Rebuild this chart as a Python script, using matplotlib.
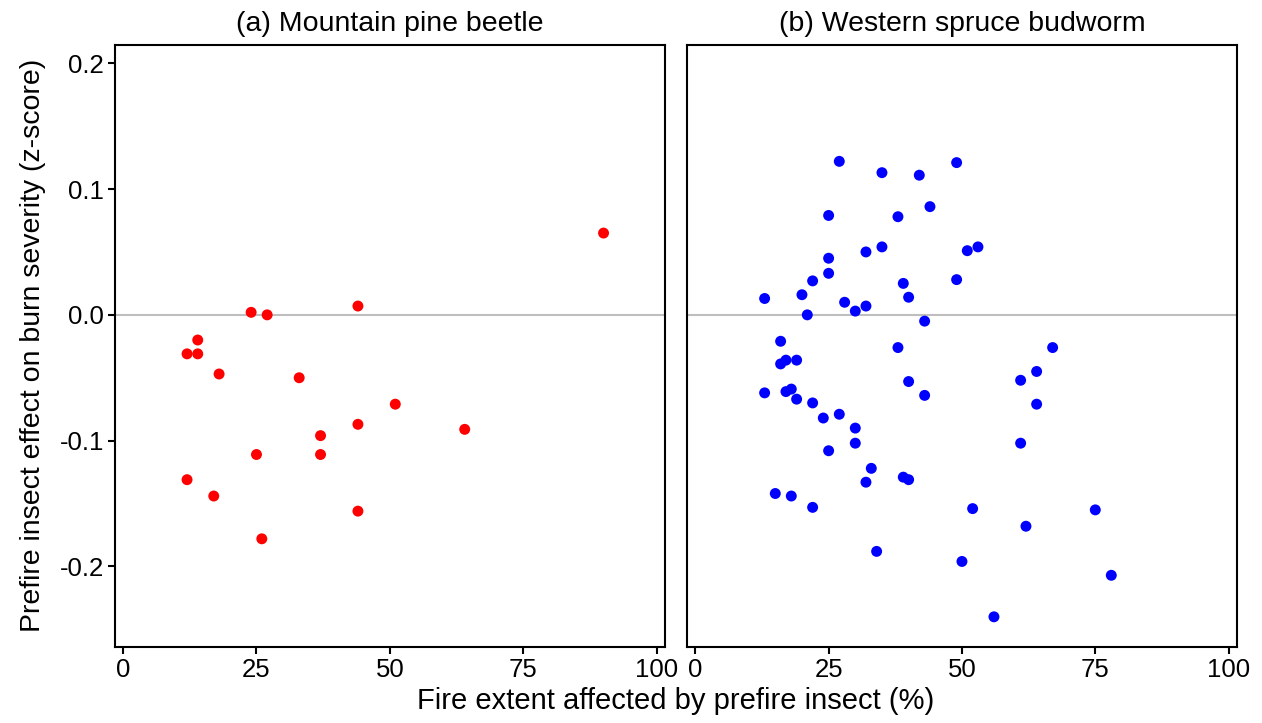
import numpy as np
import matplotlib
matplotlib.use('Agg')
import matplotlib.pyplot as plt

plt.rcParams['font.family'] = ['Liberation Sans', 'DejaVu Sans']
plt.rcParams['axes.unicode_minus'] = False

# (a) Mountain pine beetle
mpb_extent = [24, 27, 44, 14, 12, 14, 18, 33, 51, 44, 37, 37, 25, 12, 17, 44, 26, 64, 90]
mpb_effect = [0.002, 0.000, 0.007, -0.020, -0.031, -0.031, -0.047, -0.050, -0.071,
              -0.087, -0.096, -0.111, -0.111, -0.131, -0.144, -0.156, -0.178, -0.091, 0.065]

# (b) Western spruce budworm
wsb_extent = [27, 35, 42, 49, 44, 25, 38, 35, 32, 51, 53, 25, 25, 22, 39, 49, 13, 20, 40,
              28, 32, 30, 21, 43, 38, 16, 16, 17, 19, 40, 43, 13, 17, 18, 19, 22, 24, 27,
              30, 30, 25, 33, 32, 39, 40, 15, 18, 22, 52, 34, 50, 67, 64, 61, 64, 61, 75,
              62, 78, 56]
wsb_effect = [0.122, 0.113, 0.111, 0.121, 0.086, 0.079, 0.078, 0.054, 0.050, 0.051, 0.054,
              0.045, 0.033, 0.027, 0.025, 0.028, 0.013, 0.016, 0.014, 0.010, 0.007, 0.003,
              0.000, -0.005, -0.026, -0.021, -0.039, -0.036, -0.036, -0.053, -0.064, -0.062,
              -0.061, -0.059, -0.067, -0.070, -0.082, -0.079, -0.090, -0.102, -0.108, -0.122,
              -0.133, -0.129, -0.131, -0.142, -0.144, -0.153, -0.154, -0.188, -0.196, -0.026,
              -0.045, -0.052, -0.071, -0.102, -0.155, -0.168, -0.207, -0.240]

titles = ["(a) Mountain pine beetle", "(b) Western spruce budworm"]
xticks = [0, 25, 50, 75, 100]
yticks = [-0.2, -0.1, 0.0, 0.1, 0.2]
ytick_labels = ['-0.2', '-0.1', '0.0', '0.1', '0.2']

fig = plt.figure(figsize=(12.62, 7.23), dpi=100)
ax1 = fig.add_axes([0.0911, 0.1051, 0.4358, 0.8327])
ax2 = fig.add_axes([0.5446, 0.1051, 0.4353, 0.8327])

panels = [(ax1, mpb_extent, mpb_effect, '#FF0000'),
          (ax2, wsb_extent, wsb_effect, '#0000FF')]

for i, (ax, xs, ys, col) in enumerate(panels):
    ax.axhline(0, color='#BEBEBE', lw=1.5, zorder=1)
    ax.scatter(xs, ys, s=62, color=col, edgecolors='none', zorder=3)
    ax.set_xlim(-1.5, 101.5)
    ax.set_ylim(-0.264, 0.2145)
    ax.set_xticks(xticks)
    ax.set_xticklabels([str(t) for t in xticks])
    ax.set_yticks(yticks)
    ax.set_title(titles[i], fontsize=20.5, pad=10)
    for sp in ax.spines.values():
        sp.set_linewidth(1.5)
        sp.set_color('black')
    ax.tick_params(axis='both', length=5, width=1.5, labelsize=18.5, colors='black', pad=3)
    if i == 1:
        ax.tick_params(axis='y', left=False, labelleft=False)
    else:
        ax.set_yticklabels(ytick_labels)

fig.text(0.026, 0.522, "Prefire insect effect on burn severity (z-score)", rotation=90,
         ha='center', va='center', fontsize=20.5)
fig.text(0.535, 0.030, "Fire extent affected by prefire insect (%)", ha='center', va='center',
         fontsize=21)

fig.savefig("out.png", dpi=100)
